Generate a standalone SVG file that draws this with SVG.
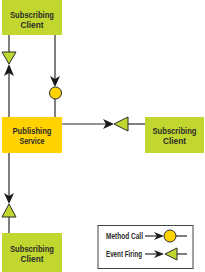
<svg xmlns="http://www.w3.org/2000/svg" width="205" height="272" viewBox="0 0 205 272">
<style>
.sub{fill:#c1d72f}
.pub{fill:#ffd200}
.t{font-family:"Liberation Sans Narrow","Liberation Sans",Arial,sans-serif;font-weight:bold;font-size:9px;fill:#2b2b2b;text-anchor:middle}
.tl{font-family:"Liberation Sans Narrow","Liberation Sans",Arial,sans-serif;font-weight:bold;font-size:8.5px;fill:#2b2b2b}
.ln{stroke:#2b2b2b;stroke-width:1.2;fill:none}
.ah{fill:#1a1a1a}
.tri{fill:#c1d72f;stroke:#2b2b2b;stroke-width:1}
.dot{fill:#ffd200;stroke:#2b2b2b;stroke-width:1}
</style>
<rect width="205" height="272" fill="#ffffff"/>
<g id="connectors">
<line class="ln" x1="9" y1="35" x2="9" y2="52"/>
<line class="ln" x1="9" y1="73" x2="9" y2="117"/>
<polygon class="tri" points="2,52 16,52 9,64"/>
<path class="ah" d="M9,64 L4,76 L9,73 L14,76 Z"/>
<line class="ln" x1="55" y1="35" x2="55" y2="80"/>
<path class="ah" d="M55,87 L50,76 L55,79 L60,76 Z"/>
<line class="ln" x1="55" y1="99" x2="55" y2="117"/>
<circle class="dot" cx="55.5" cy="93" r="6"/>
<line class="ln" x1="62" y1="124" x2="106" y2="124"/>
<path class="ah" d="M114,124 L103,119 L106,124 L103,129 Z"/>
<polygon class="tri" points="114,124 128,117 128,131"/>
<line class="ln" x1="128" y1="124" x2="145" y2="124"/>
<line class="ln" x1="9" y1="153" x2="9" y2="196"/>
<path class="ah" d="M9,204 L4,193 L9,196 L14,193 Z"/>
<polygon class="tri" points="9,204 2,217 16,217"/>
<line class="ln" x1="9" y1="217" x2="9" y2="233"/>
</g>
<g id="subscriber-top">
<rect class="sub" x="2" y="0" width="60" height="35"/>
<text class="t" x="32" y="18" textLength="44" lengthAdjust="spacingAndGlyphs">Subscribing</text>
<text class="t" x="32" y="28" textLength="23" lengthAdjust="spacingAndGlyphs">Client</text>
</g>
<g id="publishing-service">
<rect class="pub" x="2" y="117" width="60" height="36"/>
<text class="t" x="32" y="134" textLength="39" lengthAdjust="spacingAndGlyphs">Publishing</text>
<text class="t" x="32" y="144" textLength="25" lengthAdjust="spacingAndGlyphs">Service</text>
</g>
<g id="subscriber-right">
<rect class="sub" x="145" y="117" width="59" height="36"/>
<text class="t" x="174.5" y="134" textLength="44" lengthAdjust="spacingAndGlyphs">Subscribing</text>
<text class="t" x="174.5" y="144" textLength="23" lengthAdjust="spacingAndGlyphs">Client</text>
</g>
<g id="subscriber-bottom">
<rect class="sub" x="2" y="233" width="60" height="39"/>
<text class="t" x="32" y="252" textLength="44" lengthAdjust="spacingAndGlyphs">Subscribing</text>
<text class="t" x="32" y="262" textLength="23" lengthAdjust="spacingAndGlyphs">Client</text>
</g>
<g id="legend">
<rect x="98" y="225.5" width="95" height="43" fill="#ffffff" stroke="#444" stroke-width="1"/>
<text class="tl" x="106" y="239" textLength="37" lengthAdjust="spacingAndGlyphs">Method Call</text>
<line class="ln" x1="145" y1="236" x2="157" y2="236"/>
<path class="ah" d="M164,236 L154,232 L157,236 L154,240 Z"/>
<circle class="dot" cx="170" cy="236" r="6"/>
<line class="ln" x1="176" y1="236" x2="187" y2="236"/>
<text class="tl" x="106" y="257" textLength="36" lengthAdjust="spacingAndGlyphs">Event Firing</text>
<line class="ln" x1="145" y1="254" x2="157" y2="254"/>
<path class="ah" d="M164,254 L154,250 L157,254 L154,258 Z"/>
<polygon class="tri" points="165,254 177,248 177,260"/>
<line class="ln" x1="177" y1="254" x2="187" y2="254"/>
</g>
</svg>
